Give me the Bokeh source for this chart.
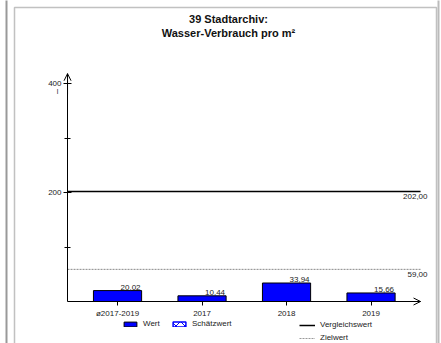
from bokeh.plotting import figure
from bokeh.models import (Range1d, FixedTicker, Label, Legend, LinearAxis,
                          LegendItem, Arrow, OpenHead, PolyAnnotation)
from bokeh.embed import file_html
from bokeh.resources import INLINE
from bokeh.core.properties import value

# ---- data ----
categories = ["ø2017-2019", "2017", "2018", "2019"]
values = [20.02, 10.44, 33.94, 15.66]
value_labels = ["20,02", "10,44", "33,94", "15,66"]
reference_value = 202.0
reference_label = "202,00"
target_value = 59.0
target_label = "59,00"
y_major_ticks = [200, 400]
y_minor_ticks = [100, 300]
title_lines = ["39 Stadtarchiv:", "Wasser-Verbrauch pro m²"]
unit_label = "l"
legend_labels = ["Wert", "Schätzwert", "Vergleichswert", "Zielwert"]

FONT = "Liberation Sans"
W, H = 441, 343
NAN = float("nan")

positions = list(range(len(categories)))
label_overrides = {i: c for i, c in enumerate(categories)}

p = figure(width=W, height=H,
           x_range=Range1d(-1.385, 3.834), y_range=Range1d(-77.06, 552.3),
           x_axis_location=None, y_axis_location=None,
           output_backend="svg", toolbar_location=None,
           min_border_left=0, min_border_right=0,
           min_border_top=0, min_border_bottom=0)
p.styles = {"position": "absolute", "left": "0px", "top": "0px"}
p.outline_line_color = None
p.grid.visible = False
p.background_fill_color = "white"
p.border_fill_color = "white"

# axes (drawn inside the frame at fixed locations)
yaxis = LinearAxis(fixed_location=-0.5917, bounds=(0, 418),
                   ticker=FixedTicker(ticks=y_major_ticks, minor_ticks=y_minor_ticks))
yaxis.major_tick_in = 4
yaxis.major_tick_out = 4
yaxis.minor_tick_in = 3
yaxis.minor_tick_out = 3
yaxis.major_label_standoff = 2
xaxis = LinearAxis(fixed_location=0, bounds=(-0.5917, 3.586),
                   ticker=FixedTicker(ticks=positions, minor_ticks=[]),
                   major_label_overrides=label_overrides)
xaxis.major_tick_in = 0
xaxis.major_tick_out = 4
xaxis.major_label_standoff = 3
for ax in (xaxis, yaxis):
    ax.axis_line_color = "black"
    ax.axis_line_width = 1
    ax.major_tick_line_color = "black"
    ax.minor_tick_line_color = "black"
    ax.major_label_text_font = FONT
    ax.major_label_text_font_size = "8px"
    ax.major_label_text_color = "#222222"
p.add_layout(yaxis, "left")
p.add_layout(xaxis, "below")

# bars
bars = p.vbar(x=positions, top=values, width=0.57, fill_color="#0000FF",
              line_color="black", line_width=1)
p.text(x=positions, y=values, text=value_labels, x_offset=13, y_offset=-1,
       text_align="center", text_baseline="bottom", text_font=value(FONT),
       text_font_size="8px", text_color="#222222")

# reference and target lines
p.segment(x0=[-0.5917], x1=[3.586], y0=[reference_value], y1=[reference_value],
          line_color="black", line_width=1.5)
p.segment(x0=[-0.5917], x1=[3.586], y0=[target_value], y1=[target_value],
          line_color="#888888", line_width=1, line_dash="2 1")
p.add_layout(Label(x=427, x_units="screen", y=reference_value, text=reference_label,
                   text_align="right", text_baseline="top", y_offset=-3,
                   text_font=FONT, text_font_size="8px", text_color="#222222"))
p.add_layout(Label(x=427, x_units="screen", y=target_value, text=target_label,
                   text_align="right", text_baseline="top", y_offset=-3,
                   text_font=FONT, text_font_size="8px", text_color="#222222"))

# axis arrows
p.add_layout(Arrow(end=OpenHead(size=7, line_width=1, line_color="black"),
                   x_start=-0.5917, y_start=380, x_end=-0.5917, y_end=418,
                   line_color="black", line_width=1))
p.add_layout(Arrow(end=OpenHead(size=7, line_width=1, line_color="black"),
                   x_start=3.3, y_start=0, x_end=3.586, y_end=0,
                   line_color="black", line_width=1))

# title and unit
p.add_layout(Label(x=228, y=H - 18, x_units="screen", y_units="screen", text=title_lines[0],
                   text_align="center", text_baseline="middle", text_font=FONT,
                   text_font_style="bold", text_font_size="11px", text_color="#111111"))
p.add_layout(Label(x=228, y=H - 32, x_units="screen", y_units="screen", text=title_lines[1],
                   text_align="center", text_baseline="middle", text_font=FONT,
                   text_font_style="bold", text_font_size="11px", text_color="#111111"))
p.add_layout(Label(x=57, y=H - 91, x_units="screen", y_units="screen", text=unit_label,
                   text_align="center", text_baseline="middle", text_font=FONT,
                   text_font_size="7px", text_color="#222222"))

# frame decoration
p.add_layout(PolyAnnotation(xs=[14, 436, 436, 14], ys=[H - 7, H - 7, -20, -20],
                            xs_units="screen", ys_units="screen",
                            fill_alpha=0, line_color="#333333", line_width=1.5))
p.add_layout(PolyAnnotation(xs=[5, 7, 7, 5], ys=[-20, -20, H + 20, H + 20],
                            xs_units="screen", ys_units="screen",
                            fill_color="#999999", fill_alpha=1, line_color=None))
p.add_layout(PolyAnnotation(xs=[437, 439, 439, 437], ys=[-20, -20, H + 20, H + 20],
                            xs_units="screen", ys_units="screen",
                            fill_color="#bbbbbb", fill_alpha=1, line_color=None))

# legend proxy renderers (no visible data)
est = p.vbar(x=[0], top=[NAN], width=0.5, fill_color="white", line_color="#0000FF",
             line_width=1.5, hatch_pattern="diagonal_cross", hatch_color="#0000FF",
             hatch_scale=9, hatch_weight=1)
ref_r = p.line(x=[0, 1], y=[NAN, NAN], line_color="black", line_width=1.5)
tgt_r = p.line(x=[0, 1], y=[NAN, NAN], line_color="#999999", line_width=1,
               line_dash="2 1")


def style_legend(leg):
    leg.label_text_font = FONT
    leg.label_text_font_size = "8px"
    leg.label_text_color = "#222222"
    leg.glyph_width = 16
    leg.glyph_height = 6
    leg.label_height = 8
    leg.label_standoff = 5
    leg.padding = 0
    leg.margin = 0
    leg.border_line_color = None
    leg.background_fill_alpha = 0


leg1 = Legend(items=[LegendItem(label=legend_labels[0], renderers=[bars], index=0),
                     LegendItem(label=legend_labels[1], renderers=[est], index=0)],
              orientation="horizontal", location=(122, 15), spacing=8)
style_legend(leg1)
leg2 = Legend(items=[LegendItem(label=legend_labels[2], renderers=[ref_r]),
                     LegendItem(label=legend_labels[3], renderers=[tgt_r])],
              orientation="vertical", location=(299, 1), spacing=4)
style_legend(leg2)
p.add_layout(leg1)
p.add_layout(leg2)

open("out.html", "w").write(file_html(p, INLINE))
